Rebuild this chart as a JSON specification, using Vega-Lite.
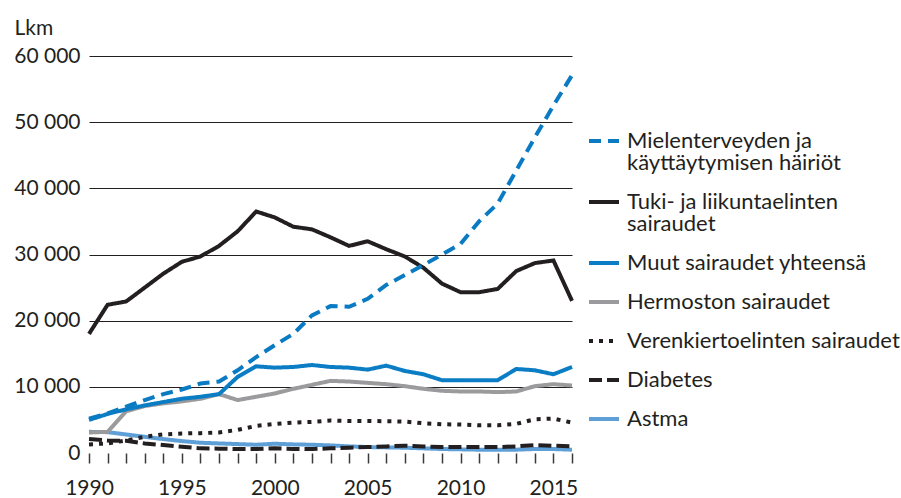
{
  "$schema": "https://vega.github.io/schema/vega-lite/v6.json",
  "width": 483,
  "height": 397,
  "autosize": "none",
  "padding": {"left": 89, "top": 56, "right": 329, "bottom": 45},
  "background": "white",
  "config": {"view": {"stroke": null}, "font": "Lato"},
  "data": {"values": [
    {"year":1990,"miel":5200,"tuki":18000,"muut":5000,"herm":3100,"vere":1300,"diab":2100,"astm":3200},
    {"year":1991,"miel":6000,"tuki":22400,"muut":5900,"herm":3200,"vere":1450,"diab":1900,"astm":3150},
    {"year":1992,"miel":7000,"tuki":22900,"muut":6600,"herm":6300,"vere":1900,"diab":1850,"astm":2800},
    {"year":1993,"miel":8000,"tuki":25000,"muut":7200,"herm":7100,"vere":2450,"diab":1450,"astm":2450},
    {"year":1994,"miel":8900,"tuki":27100,"muut":7700,"herm":7500,"vere":2800,"diab":1200,"astm":2100},
    {"year":1995,"miel":9600,"tuki":28900,"muut":8200,"herm":7800,"vere":2950,"diab":950,"astm":1800},
    {"year":1996,"miel":10500,"tuki":29700,"muut":8500,"herm":8200,"vere":3000,"diab":700,"astm":1550},
    {"year":1997,"miel":10800,"tuki":31300,"muut":8900,"herm":8900,"vere":3100,"diab":650,"astm":1450},
    {"year":1998,"miel":12500,"tuki":33500,"muut":11500,"herm":8000,"vere":3500,"diab":600,"astm":1350},
    {"year":1999,"miel":14500,"tuki":36500,"muut":13100,"herm":8500,"vere":4100,"diab":600,"astm":1250},
    {"year":2000,"miel":16300,"tuki":35600,"muut":12900,"herm":9000,"vere":4400,"diab":700,"astm":1400},
    {"year":2001,"miel":18000,"tuki":34200,"muut":13000,"herm":9700,"vere":4600,"diab":600,"astm":1300},
    {"year":2002,"miel":20800,"tuki":33800,"muut":13300,"herm":10300,"vere":4700,"diab":600,"astm":1250},
    {"year":2003,"miel":22200,"tuki":32600,"muut":13000,"herm":10900,"vere":4900,"diab":700,"astm":1150},
    {"year":2004,"miel":22100,"tuki":31300,"muut":12900,"herm":10800,"vere":4850,"diab":800,"astm":1000},
    {"year":2005,"miel":23300,"tuki":32000,"muut":12600,"herm":10600,"vere":4850,"diab":900,"astm":900},
    {"year":2006,"miel":25400,"tuki":30800,"muut":13200,"herm":10400,"vere":4800,"diab":1000,"astm":850},
    {"year":2007,"miel":26900,"tuki":29700,"muut":12400,"herm":10100,"vere":4750,"diab":1100,"astm":800},
    {"year":2008,"miel":28400,"tuki":28000,"muut":11900,"herm":9700,"vere":4500,"diab":1000,"astm":700},
    {"year":2009,"miel":30000,"tuki":25600,"muut":11000,"herm":9400,"vere":4350,"diab":900,"astm":600},
    {"year":2010,"miel":31600,"tuki":24300,"muut":11000,"herm":9300,"vere":4300,"diab":900,"astm":550},
    {"year":2011,"miel":35000,"tuki":24300,"muut":11000,"herm":9300,"vere":4200,"diab":900,"astm":500},
    {"year":2012,"miel":37700,"tuki":24800,"muut":11000,"herm":9200,"vere":4200,"diab":900,"astm":500},
    {"year":2013,"miel":42700,"tuki":27500,"muut":12700,"herm":9300,"vere":4400,"diab":1000,"astm":500},
    {"year":2014,"miel":47700,"tuki":28700,"muut":12500,"herm":10100,"vere":5100,"diab":1200,"astm":600},
    {"year":2015,"miel":52500,"tuki":29100,"muut":11900,"herm":10400,"vere":5200,"diab":1100,"astm":600},
    {"year":2016,"miel":57100,"tuki":23000,"muut":13000,"herm":10200,"vere":4600,"diab":1000,"astm":500}
  ]},
  "transform": [
    {"fold": ["astm","diab","vere","herm","muut","tuki","miel"], "as": ["series","value"]}
  ],
  "mark": {"type": "line", "strokeWidth": 4, "strokeCap": "butt", "strokeJoin": "miter"},
  "encoding": {
    "x": {
      "field": "year", "type": "quantitative",
      "scale": {"domain": [1990, 2016], "nice": false, "zero": false},
      "axis": {
        "values": [1990,1991,1992,1993,1994,1995,1996,1997,1998,1999,2000,2001,2002,2003,2004,2005,2006,2007,2008,2009,2010,2011,2012,2013,2014,2015,2016],
        "format": "d",
        "labelExpr": "datum.value % 5 === 0 ? datum.label : ''",
        "grid": false, "domain": false,
        "tickColor": "#3a3a3a", "tickSize": 10, "tickWidth": 1.5, "tickOffset": 0,
        "labelFontSize": 21, "labelColor": "#231f20", "labelPadding": 14,
        "labelFlush": false, "labelOverlap": false, "title": null
      }
    },
    "y": {
      "field": "value", "type": "quantitative",
      "scale": {"domain": [0, 60000], "nice": false},
      "axis": {
        "values": [0,10000,20000,30000,40000,50000,60000],
        "labelExpr": "replace(format(datum.value, ','), ',', ' ')",
        "grid": true, "gridColor": "#231f20", "gridWidth": 1.2,
        "gridOpacity": {"condition": {"test": "datum.value === 0", "value": 0}, "value": 1},
        "domain": false, "ticks": false,
        "labelFontSize": 21, "labelColor": "#231f20", "labelPadding": 9,
        "title": "Lkm", "titleAngle": 0, "titleX": -75, "titleY": -22,
        "titleAlign": "left", "titleBaseline": "alphabetic",
        "titleFontWeight": "normal", "titleFontSize": 21, "titleColor": "#231f20"
      }
    },
    "color": {
      "field": "series", "type": "nominal",
      "scale": {
        "domain": ["miel","tuki","muut","herm","vere","diab","astm"],
        "range": ["#0a7bc2","#231f20","#0a7dc4","#9b9b9d","#231f20","#231f20","#5d9fd6"]
      },
      "legend": {
        "orient": "none", "legendX": 498, "legendY": 68, "title": null, "padding": 0,
        "symbolType": "stroke", "symbolSize": 900, "symbolStrokeWidth": 4,
        "labelFontSize": 22, "labelColor": "#231f20", "labelOffset": 6, "labelLimit": 400,
        "labelBaseline": "middle", "rowPadding": 11,
        "encode": {"labels": {"update": {"lineHeight": {"value": 22}}}},
        "labelExpr": "{'miel': ['Mielenterveyden ja', 'käyttäytymisen häiriöt'], 'tuki': ['Tuki- ja liikuntaelinten', 'sairaudet'], 'muut': 'Muut sairaudet yhteensä', 'herm': 'Hermoston sairaudet', 'vere': 'Verenkiertoelinten sairaudet', 'diab': 'Diabetes', 'astm': 'Astma'}[datum.label]"
      }
    },
    "strokeDash": {
      "field": "series", "type": "nominal",
      "scale": {
        "domain": ["miel","tuki","muut","herm","vere","diab","astm"],
        "range": [[12,7],[1,0],[1,0],[1,0],[4,6],[13,5],[1,0]]
      },
      "legend": {
        "orient": "none", "legendX": 498, "legendY": 68, "title": null, "padding": 0,
        "symbolType": "stroke", "symbolSize": 900, "symbolStrokeWidth": 4,
        "labelFontSize": 22, "labelColor": "#231f20", "labelOffset": 6, "labelLimit": 400,
        "labelBaseline": "middle", "rowPadding": 11,
        "encode": {"labels": {"update": {"lineHeight": {"value": 22}}}},
        "labelExpr": "{'miel': ['Mielenterveyden ja', 'käyttäytymisen häiriöt'], 'tuki': ['Tuki- ja liikuntaelinten', 'sairaudet'], 'muut': 'Muut sairaudet yhteensä', 'herm': 'Hermoston sairaudet', 'vere': 'Verenkiertoelinten sairaudet', 'diab': 'Diabetes', 'astm': 'Astma'}[datum.label]"
      }
    },
    "order": {"field": "series"}
  }
}
